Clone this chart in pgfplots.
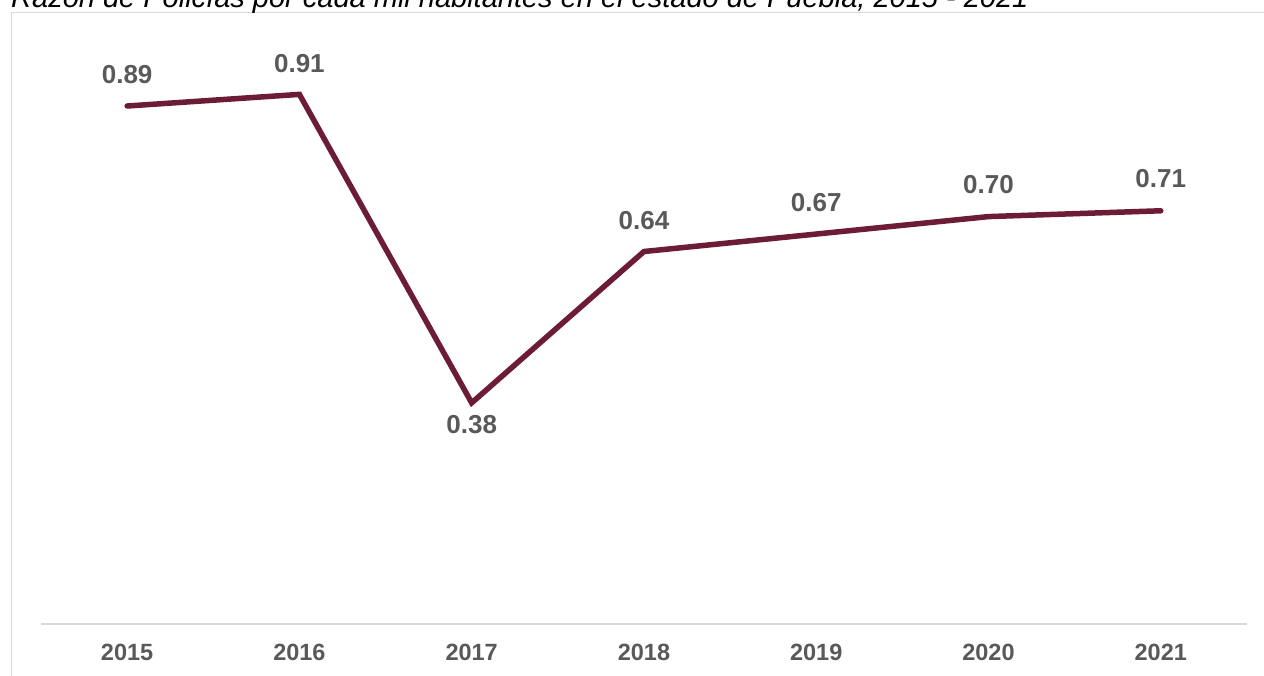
\documentclass[border=0pt]{standalone}
\usepackage{pgfplots}
\pgfplotsset{compat=1.18}
\usepackage{fontspec}
\setmainfont{Liberation Sans}
\definecolor{guinda}{RGB}{108,28,52}
\definecolor{lbl}{RGB}{89,89,89}
\definecolor{frm}{RGB}{217,217,217}
\begin{document}
\begin{tikzpicture}
\path[use as bounding box] (0pt,0pt) rectangle (1264pt,675pt);
\draw[frm, line width=1.8pt] (11.5pt,-10pt) -- (11.5pt,662.5pt) -- (1290pt,662.5pt);
\node[anchor=base west, inner sep=0pt, font=\fontsize{29}{34}\selectfont\itshape] at (11pt,667pt) {Razón de Policías por cada mil habitantes en el estado de Puebla, 2015 - 2021};
\begin{axis}[
  at={(41pt,51pt)}, anchor=south west,
  scale only axis, width=1206pt, height=582pt,
  xmin=-0.5, xmax=6.5, ymin=0, ymax=1,
  axis x line=bottom, axis y line=none,
  x axis line style={frm, line width=2pt, -},
  xtick={0,1,2,3,4,5,6},
  xticklabels={2015,2016,2017,2018,2019,2020,2021},
  major tick length=0pt,
  xtick style={draw=none},
  ytick=\empty,
  xticklabel style={anchor=north, inner sep=0pt, yshift=-20pt, text=lbl, font=\fontsize{23.5}{27}\selectfont\bfseries},
  /pgf/number format/assume math mode=true,
  clip=false,
]
\addplot[guinda, line width=5.5pt, line cap=round, line join=miter, mark=none,
  nodes near coords={\pgfmathprintnumber[fixed,precision=2,zerofill,assume math mode=true]{\pgfplotspointmeta}},
  visualization depends on={value \thisrow{off} \as \lbloff},
  every node near coord/.append style={anchor=center, yshift=\lbloff pt, text=lbl, inner sep=0pt, font=\fontsize{26}{30}\selectfont\bfseries},
] table[x=x, y=y] {
x y off
0 0.89 31
1 0.91 31
2 0.38 -22
3 0.64 31
4 0.67 32
5 0.70 32
6 0.71 32
};
\end{axis}
\end{tikzpicture}
\end{document}
